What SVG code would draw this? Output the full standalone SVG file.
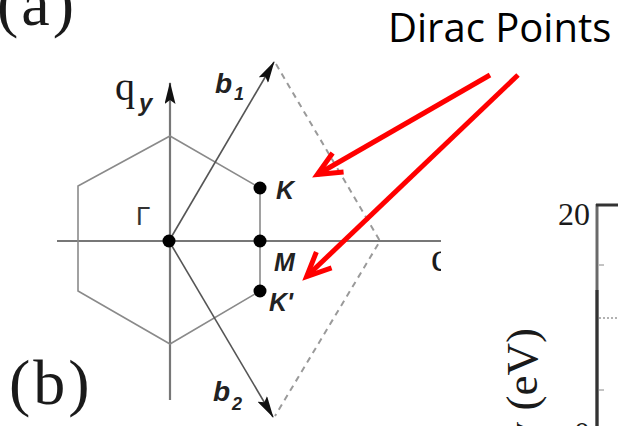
<svg xmlns="http://www.w3.org/2000/svg" width="618" height="426" viewBox="0 0 618 426">
  <style>
    .serif { font-family: "Liberation Serif", "Times New Roman", serif; fill: #1a1a1a; }
    .lbl { font-family: "Liberation Sans", Arial, sans-serif; font-weight: bold; font-style: italic; fill: #222; }
    .axis { stroke: #777; stroke-width: 2.2; fill: none; }
    .hex { stroke: #8a8a8a; stroke-width: 1.6; fill: none; }
    .vec { stroke: #555; stroke-width: 1.6; fill: none; }
    .dash { stroke: #9a9a9a; stroke-width: 2; fill: none; stroke-dasharray: 6 5; }
    .dot { fill: #000; }
    .red { stroke: #ff0000; stroke-width: 5; fill: none; }
  </style>
  <defs>
    <marker id="tri" viewBox="0 0 22 11" refX="21" refY="5.5" markerWidth="22" markerHeight="11" markerUnits="userSpaceOnUse" orient="auto">
      <path d="M0,0 L22,5.5 L0,11 L4,5.5 z" fill="#111"/>
    </marker>
    <marker id="open" viewBox="-30 -15 34 30" refX="0" refY="0" markerWidth="34" markerHeight="30" markerUnits="userSpaceOnUse" orient="auto" overflow="visible">
      <path d="M-24,-11 L0,0 L-24,11" fill="none" stroke="#ff0000" stroke-width="5" stroke-linejoin="miter" stroke-miterlimit="10"/>
    </marker>
    <clipPath id="leftfig">
      <rect x="0" y="0" width="441" height="426"/>
    </clipPath>
  </defs>

  <rect x="0" y="0" width="618" height="426" fill="#fff"/>

  <!-- panel labels -->
  <g id="label-a">
    <text class="serif" x="-3" y="25" font-size="64" letter-spacing="3">(a)</text>
  </g>
  <g id="label-b">
    <text class="serif" x="9" y="404" font-size="64" letter-spacing="3">(b)</text>
  </g>

  <!-- Brillouin zone figure -->
  <g id="axes" clip-path="url(#leftfig)">
    <line class="axis" x1="57" y1="241" x2="441" y2="241"/>
    <line class="axis" x1="170" y1="400" x2="170" y2="83" marker-end="url(#tri)"/>
    <text class="serif" x="115" y="100" font-size="40">q</text>
    <text class="lbl" x="139" y="111" font-size="24">y</text>
    <text class="serif" x="431" y="271" font-size="40">q</text>
  </g>

  <g id="hexagon">
    <polygon class="hex" points="170,136 260,188 260,291 170,344 78,291 78,186"/>
  </g>

  <g id="reciprocal-cell">
    <polyline class="dash" points="276,64 380,241 275,416"/>
  </g>

  <g id="b1">
    <line class="vec" x1="169" y1="241" x2="274" y2="62" marker-end="url(#tri)"/>
    <text class="lbl" x="215" y="93" font-size="28">b</text>
    <text class="lbl" x="234" y="100" font-size="18">1</text>
  </g>
  <g id="b2">
    <line class="vec" x1="169" y1="241" x2="273" y2="417" marker-end="url(#tri)"/>
    <text class="lbl" x="213" y="401" font-size="28">b</text>
    <text class="lbl" x="232" y="410" font-size="18">2</text>
  </g>

  <g id="point-gamma">
    <circle class="dot" cx="169" cy="241" r="6.5"/>
    <text x="136" y="225" font-family="Liberation Sans, Arial, sans-serif" font-size="26" fill="#333">Γ</text>
  </g>
  <g id="point-K">
    <circle class="dot" cx="260" cy="188" r="6.5"/>
    <text class="lbl" x="276" y="199" font-size="25">K</text>
  </g>
  <g id="point-M">
    <circle class="dot" cx="260" cy="241" r="6.5"/>
    <text class="lbl" x="274" y="271" font-size="25">M</text>
  </g>
  <g id="point-Kprime">
    <circle class="dot" cx="260" cy="291" r="6.5"/>
    <text class="lbl" x="269" y="311" font-size="25">K'</text>
  </g>

  <!-- annotation -->
  <g id="dirac-label">
    <text x="388" y="42" font-family="Open Sans, Noto Sans, sans-serif" font-size="40" fill="#000">Dirac Points</text>
  </g>

  <g id="connectors">
    <line class="red" x1="490" y1="75" x2="317.3" y2="174.5" marker-end="url(#open)"/>
    <line class="red" x1="518" y1="75" x2="306.6" y2="276.5" marker-end="url(#open)"/>
  </g>

  <!-- partial band plot at right -->
  <g id="band-plot">
    <line x1="597" y1="204" x2="597" y2="426" stroke="#6a6a6a" stroke-width="3"/>
    <line x1="597" y1="290" x2="597" y2="426" stroke="#333" stroke-width="3"/>
    <line x1="596" y1="205" x2="618" y2="205" stroke="#333" stroke-width="3"/>
    <line x1="599" y1="265" x2="604" y2="265" stroke="#888" stroke-width="1"/>
    <line x1="599" y1="390" x2="604" y2="390" stroke="#888" stroke-width="1"/>
    <line x1="599" y1="318" x2="618" y2="318" stroke="#999" stroke-width="1.5" stroke-dasharray="2 2"/>
    <text class="serif" x="590" y="225" font-size="32" text-anchor="end">20</text>
    <text class="serif" x="590" y="444" font-size="32" text-anchor="end">0</text>
    <text class="serif" transform="translate(537,328) rotate(-90)" font-size="45" text-anchor="end">Energy (eV)</text>
  </g>
</svg>
